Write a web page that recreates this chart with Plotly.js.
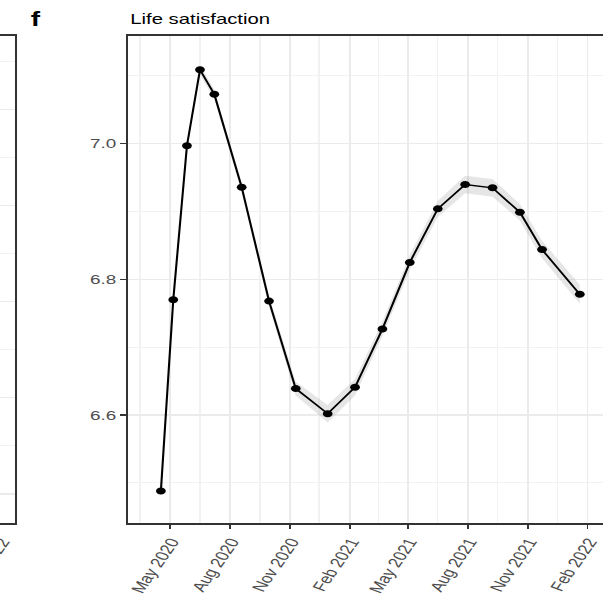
<!DOCTYPE html>
<html>
<head>
<meta charset="utf-8">
<script src="https://cdn.plot.ly/plotly-3.0.1.min.js"></script>
<style>
  html, body { margin: 0; padding: 0; overflow: hidden; background: #fff; }
  /* the figure is laid out narrow and widened horizontally */
  #chart { width: 450px; height: 600px; transform: scaleX(1.4); transform-origin: 0 0; }
</style>
</head>
<body>
<div id="chart"></div>
<script>
// Survey waves (mid-fieldwork dates) and mean life satisfaction
const surveyDates = [
  '2020-04-17', '2020-05-06', '2020-05-27', '2020-06-16', '2020-07-08', '2020-08-19',
  '2020-09-30', '2020-11-10', '2020-12-29', '2021-02-09', '2021-03-23', '2021-05-04',
  '2021-06-16', '2021-07-28', '2021-09-08', '2021-10-20', '2021-11-23', '2022-01-20'
];
const lifeSatisfaction = [
  6.488, 6.770, 6.997, 7.109, 7.073, 6.936,
  6.768, 6.639, 6.602, 6.641, 6.727, 6.825,
  6.904, 6.940, 6.935, 6.899, 6.844, 6.778
];
// half-width of the confidence band around each mean
const ciHalfWidth = [
  0.005, 0.005, 0.005, 0.007, 0.007, 0.007,
  0.008, 0.010, 0.013, 0.012, 0.011, 0.011,
  0.012, 0.013, 0.013, 0.012, 0.013, 0.014
];

const xTickDates = ['2020-05-01', '2020-08-01', '2020-11-01', '2021-02-01',
                    '2021-05-01', '2021-08-01', '2021-11-01', '2022-02-01'];
const xTickLabels = ['May 2020', 'Aug 2020', 'Nov 2020', 'Feb 2021',
                     'May 2021', 'Aug 2021', 'Nov 2021', 'Feb 2022'];
const xMinorDates = ['2020-03-16', '2020-06-16', '2020-09-16', '2020-12-16',
                     '2021-03-17', '2021-06-16', '2021-09-16', '2021-12-17', '2022-03-18'];
const yTickValues = [6.6, 6.8, 7.0];
const yTickLabels = ['6.6', '6.8', '7.0'];

const ciUpper = lifeSatisfaction.map((v, i) => v + ciHalfWidth[i]);
const ciLower = lifeSatisfaction.map((v, i) => v - ciHalfWidth[i]);

const FONT = 'Liberation Sans, Arial, Helvetica, sans-serif';
const W = 450, H = 600;
const px = v => v / W;          // horizontal pixel -> paper fraction
const py = v => 1 - v / H;      // vertical pixel (from top) -> paper fraction

const gridColor = '#ebebeb';
const frameColor = '#333333';
const TICK_ANGLE = -63;
const TICK_FONT = { family: FONT, size: 13.5, color: '#4d4d4d' };

const traces = [
  { x: surveyDates, y: ciUpper, type: 'scatter', mode: 'lines',
    line: { width: 0 }, hoverinfo: 'skip', showlegend: false },
  { x: surveyDates, y: ciLower, type: 'scatter', mode: 'lines',
    line: { width: 0 }, fill: 'tonexty', fillcolor: 'rgba(150,150,150,0.24)',
    hoverinfo: 'skip', showlegend: false },
  { x: surveyDates, y: lifeSatisfaction, type: 'scatter', mode: 'lines+markers',
    line: { color: '#000', width: 1.5 },
    marker: { color: '#000', size: 7 }, showlegend: false },
  // neighbouring panel (e) frame
  { x: [], y: [], xaxis: 'x2', yaxis: 'y2', type: 'scatter', showlegend: false }
];

const layout = {
  width: W, height: H, autosize: false,
  margin: { l: 0, r: 0, t: 0, b: 0 },
  paper_bgcolor: '#fff', plot_bgcolor: '#fff',
  font: { family: FONT, color: '#4d4d4d', size: 14 },
  showlegend: false,
  xaxis: {
    domain: [px(91.43), px(437.86)],
    type: 'date',
    range: ['2020-02-26 13:00', '2022-03-11 22:00'],
    tickmode: 'array', tickvals: xTickDates, ticktext: xTickLabels,
    tickangle: TICK_ANGLE, tickfont: TICK_FONT,
    ticklabeloverflow: 'allow', ticklabelshift: 1,
    ticks: 'outside', ticklen: 4, tickwidth: 1.2, tickcolor: frameColor,
    showgrid: true, gridcolor: gridColor, gridwidth: 1.2,
    minor: { tickmode: 'array', tickvals: xMinorDates, showgrid: true,
             gridcolor: '#f2f2f2', gridwidth: 1, ticks: '' },
    showline: true, linecolor: frameColor, linewidth: 1.6, mirror: true,
    zeroline: false, anchor: 'y'
  },
  yaxis: {
    domain: [py(523.3), py(35.5)],
    range: [6.4404, 7.1596],
    tickmode: 'array', tickvals: yTickValues, ticktext: yTickLabels,
    tickfont: TICK_FONT,
    ticks: 'outside', ticklen: 4, tickwidth: 1.2, tickcolor: frameColor,
    showgrid: true, gridcolor: gridColor, gridwidth: 1.2,
    minor: { dtick: 0.1, tick0: 6.5, showgrid: true, gridcolor: '#f2f2f2', gridwidth: 1, ticks: '' },
    showline: true, linecolor: frameColor, linewidth: 1.6, mirror: true,
    zeroline: false, anchor: 'x'
  },
  xaxis2: {
    domain: [0, px(10.71)],
    type: 'date',
    range: ['2022-01-27', '2022-02-19'],
    tickmode: 'array', tickvals: ['2022-02-01'], ticktext: ['Feb 2022'],
    tickangle: TICK_ANGLE, tickfont: TICK_FONT,
    ticklabeloverflow: 'allow', ticklabelshift: -1,
    ticks: 'outside', ticklen: 4, tickwidth: 1.2, tickcolor: 'rgba(0,0,0,0)',
    showgrid: false,
    showline: true, linecolor: frameColor, linewidth: 1.6, mirror: true,
    zeroline: false, anchor: 'y2'
  },
  yaxis2: {
    domain: [py(523.3), py(35.5)],
    range: [-0.609, 9.532],
    dtick: 2, tick0: 0, showticklabels: false, ticks: '',
    showgrid: true, gridcolor: gridColor, gridwidth: 1.2,
    minor: { dtick: 1, tick0: 0, showgrid: true, gridcolor: '#f2f2f2', gridwidth: 1, ticks: '' },
    showline: true, linecolor: frameColor, linewidth: 1.6, mirror: true,
    zeroline: false, anchor: 'x2'
  },
  annotations: [
    { text: '<b>f</b>', xref: 'paper', yref: 'paper', x: px(25.6), y: py(19),
      xanchor: 'center', yanchor: 'middle', showarrow: false,
      font: { family: FONT, size: 20, color: '#000' } },
    { text: 'Life satisfaction', xref: 'paper', yref: 'paper', x: px(90.6), y: py(18.5),
      xanchor: 'left', yanchor: 'middle', showarrow: false,
      font: { family: FONT, size: 14.5, color: '#000' } }
  ]
};

Plotly.newPlot('chart', traces, layout, { displayModeBar: false, staticPlot: true });
</script>
</body>
</html>
